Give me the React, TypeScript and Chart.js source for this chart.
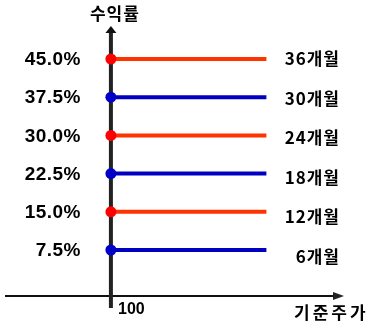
import React, { useEffect, useRef } from "react";
import { Chart, registerables } from "chart.js";

Chart.register(...registerables);

const returns = [45.0, 37.5, 30.0, 22.5, 15.0, 7.5];
const returnLabels = ["45.0%", "37.5%", "30.0%", "22.5%", "15.0%", "7.5%"];
const periods = ["36개월", "30개월", "24개월", "18개월", "12개월", "6개월"];
const lineColors = ["#ff3300", "#0000c0", "#ff3300", "#0000c0", "#ff3300", "#0000c0"];
const dotColors = ["#ff0000", "#0000c8", "#ff0000", "#0000c8", "#ff0000", "#0000c8"];
const basePrice = 100;
const endPrice = 130;
const yAxisTitle = "수익률";
const xAxisTitle = "기준주가";
const baseLabel = "100";

export default function App() {
  const ref = useRef<HTMLCanvasElement>(null);

  useEffect(() => {
    const canvas = ref.current!;
    const datasets = returns.map((r, i) => ({
      label: periods[i],
      data: [
        { x: basePrice, y: r },
        { x: endPrice, y: r },
      ],
      showLine: true,
      borderColor: lineColors[i],
      borderWidth: 4,
      pointRadius: [5.5, 0],
      pointBackgroundColor: dotColors[i],
      pointBorderColor: dotColors[i],
      pointBorderWidth: 0,
      borderCapStyle: "butt" as const,
    }));

    const decor = {
      id: "decor",
      beforeDatasetsDraw(chart: any) {
        const ctx = chart.ctx as CanvasRenderingContext2D;
        const xs = chart.scales.x;
        const axX = xs.getPixelForValue(basePrice);
        ctx.save();
        // horizontal axis
        ctx.strokeStyle = "#111";
        ctx.lineWidth = 2;
        ctx.beginPath();
        ctx.moveTo(5, 296);
        ctx.lineTo(336, 296);
        ctx.stroke();
        ctx.fillStyle = "#222";
        ctx.beginPath();
        ctx.moveTo(333, 292);
        ctx.lineTo(344, 296);
        ctx.lineTo(333, 300);
        ctx.closePath();
        ctx.fill();
        // vertical axis
        ctx.strokeStyle = "#222";
        ctx.lineWidth = 4;
        ctx.beginPath();
        ctx.moveTo(axX, 308);
        ctx.lineTo(axX, 32);
        ctx.stroke();
        ctx.fillStyle = "#111";
        ctx.beginPath();
        ctx.moveTo(axX - 5.5, 33);
        ctx.lineTo(axX, 26);
        ctx.lineTo(axX + 5.5, 33);
        ctx.closePath();
        ctx.fill();
        ctx.restore();
      },
      afterDatasetsDraw(chart: any) {
        const ctx = chart.ctx as CanvasRenderingContext2D;
        const ys = chart.scales.y;
        const xs = chart.scales.x;
        const axX = xs.getPixelForValue(basePrice);
        ctx.save();
        ctx.fillStyle = "#000";
        ctx.textBaseline = "middle";
        // left value labels
        ctx.font = "bold 19px 'Liberation Sans', Arial, sans-serif";
        (ctx as any).letterSpacing = "0.5px";
        ctx.textAlign = "right";
        returnLabels.forEach((t, i) => {
          ctx.fillText(t, 81, ys.getPixelForValue(returns[i]) + 1);
        });
        // right period labels
        ctx.font = "bold 17px 'Noto Sans CJK KR', sans-serif";
        (ctx as any).letterSpacing = "1px";
        ctx.textAlign = "right";
        periods.forEach((t, i) => {
          ctx.fillText(t, 340, ys.getPixelForValue(returns[i]) + i * 1.3);
        });
        // titles
        ctx.textAlign = "center";
        ctx.fillText(yAxisTitle, axX + 4, 14);
        ctx.textAlign = "left";
        (ctx as any).letterSpacing = "3px";
        ctx.fillText(xAxisTitle, 294, 313);
        (ctx as any).letterSpacing = "0px";
        ctx.font = "900 16px 'Liberation Sans', Arial, sans-serif";
        ctx.fillText(baseLabel, 118, 310);
        ctx.restore();
      },
    };

    const chart = new Chart(canvas, {
      type: "scatter",
      data: { datasets },
      options: {
        animation: false,
        responsive: false,
        devicePixelRatio: 1,
        layout: { padding: 0, autoPadding: false },
        plugins: { legend: { display: false }, tooltip: { enabled: false } },
        scales: {
          x: { type: "linear", display: false, min: 78.6, max: 149.8 },
          y: { type: "linear", display: false, min: -6.83, max: 56.58 },
        },
      },
      plugins: [decor],
    });
    return () => chart.destroy();
  }, []);

  return (
    <div style={{ position: "fixed", left: 0, top: 0, width: 369, height: 323, background: "#fff" }}>
      <canvas ref={ref} width={369} height={323} />
    </div>
  );
}
